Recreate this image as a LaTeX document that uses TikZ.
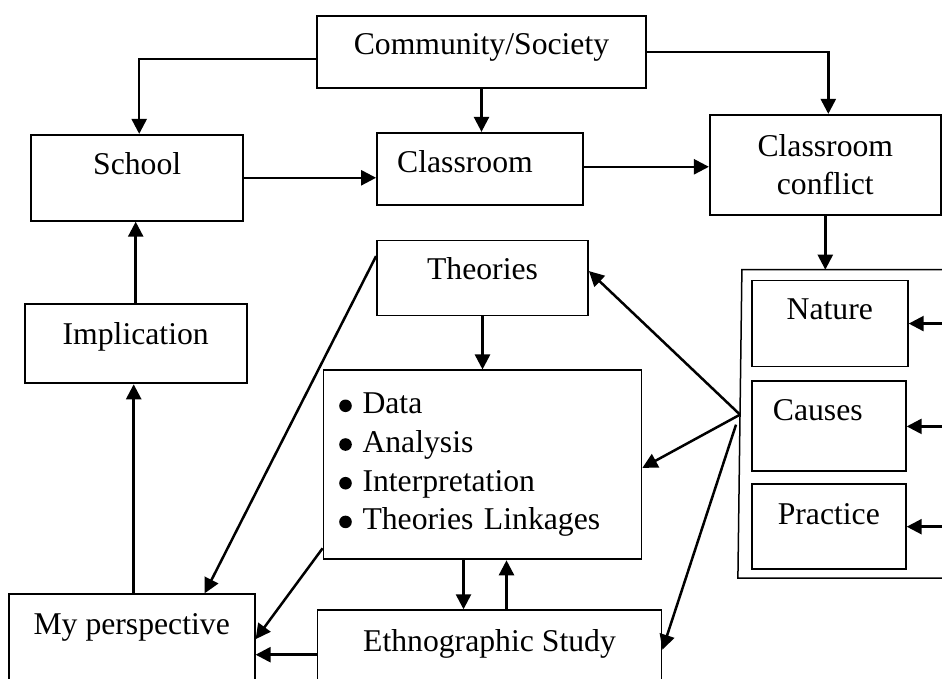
\documentclass[tikz,border=0pt]{standalone}
\usepackage{fontspec}
\setmainfont{Liberation Serif}
\usetikzlibrary{positioning,calc,arrows.meta}

\newcommand{\listdot}{\tikz[baseline={(0pt,-8pt)}]\fill (0pt,0pt) circle (6.3pt);}
\newcommand{\listentry}[1]{\listdot\kern10.7pt#1}

\begin{document}
\begin{tikzpicture}[x=1pt, y=1pt,
    every node/.style={font=\fontsize{31.7}{38.7}\selectfont},
    box/.style={rectangle, draw, line width=1.8pt, inner sep=0pt},
    arr/.style={-{Triangle[length=15pt,width=15pt]}, line width=2.5pt}]
        \useasboundingbox (0,0) rectangle (942,679);

        \node (comm) [box, minimum width=329pt, text height=39pt, text depth=33pt] at (481.5,627) {Community/Society};

        \node (classroom) [box, below=43pt of comm, xshift=-1.5pt, minimum width=206pt, text height=40pt, text depth=32pt] {Classroom\kern30pt};
        \node (school) [box, left=132pt of classroom, yshift=-9pt, minimum width=212pt, text height=40pt, text depth=46pt] {School};
        \node (conflict) [box, right=125pt of classroom, yshift=4pt, minimum width=231pt, minimum height=100pt, align=center] {Classroom\\conflict};

        \node (theories) [box, below=34pt of classroom, xshift=2.5pt, minimum width=211pt, text height=39pt, text depth=36pt] {Theories};
        \node (list) [box, below=53pt of theories, minimum height=189pt, text width=286.6pt, inner xsep=15.7pt, align=left] {\listentry{Data}\\ \listentry{Analysis}\\ \listentry{Interpretation}\\ \listentry{Theories Linkages}};
        \node (ethno) [box, below=49pt of list, xshift=7pt, minimum width=344pt, text height=41pt, text depth=56pt] {Ethnographic Study};
        \node (mypersp) [box, left=61pt of ethno, yshift=8pt, minimum width=246pt, text height=40pt, text depth=73pt] {My perspective};
        \node (implication) [box, above=209pt of mypersp, xshift=4pt, minimum width=222pt, text height=40pt, text depth=39pt] {Implication};

        \node (nature) [box, below=64pt of conflict, xshift=4.5pt, minimum width=156pt, text height=39pt, text depth=47pt] {Nature};
        \node (causes) [box, below=13pt of nature, xshift=-1pt, minimum width=154pt, text height=39pt, text depth=51pt] {Causes\kern22pt};
        \node (practice) [box, below=11pt of causes, minimum width=154pt, text height=40pt, text depth=45pt] {Practice};

        % open frame round the three boxes
        \coordinate (rim) at (942,0);
        \coordinate (panelnw) at ([xshift=-9pt,yshift=10pt]nature.north west);
        \coordinate (panelsw) at ([xshift=-13pt,yshift=-8pt]practice.south west);
        \coordinate (fan) at ($(panelnw)!0.47!(panelsw)$);
        \draw[line width=1.5pt] (panelnw -| rim) -- (panelnw) -- (panelsw) -- (panelsw -| rim);

        \draw[arr] ([yshift=-7pt]comm.west) -| ([xshift=2pt]school.north);
        \draw[arr] (comm.south) -- (comm.south |- classroom.north);
        \draw[arr] (comm.east) -| ([xshift=3pt]conflict.north);
        \draw[arr] (school.east) -- (school.east -| classroom.west);
        \draw[arr] ([yshift=2pt]classroom.east) -- ([yshift=2pt]classroom.east -| conflict.west);
        \draw[arr] (conflict.south) -- (conflict.south |- panelnw);
        \draw[arr] (implication.north) -- (implication.north |- school.south);
        \draw[arr] ([xshift=2pt]mypersp.north) -- ([xshift=2pt]mypersp.north |- implication.south);
        \draw[arr] (theories.south) -- (theories.south |- list.north);
        \draw[arr] ([yshift=22pt]theories.west) -- ([xshift=73pt]mypersp.north);
        \draw[arr] ([yshift=12pt]list.south west) -- ([yshift=11.5pt]mypersp.east);
        \draw[arr] ([yshift=4pt]ethno.west) -- ([yshift=4pt]ethno.west -| mypersp.east);
        \draw[arr] ([xshift=-19pt]list.south) -- ([xshift=-19pt]list.south |- ethno.north);
        \draw[arr] ([xshift=17pt]ethno.north) -- ([xshift=17pt]ethno.north |- list.south);
        \draw[arr] (fan) -- ([yshift=7pt]theories.east);
        \draw[arr] (fan) -- ([yshift=-3pt]list.east);
        \draw[arr] ([shift={(-4pt,-10pt)}]fan) -- ([yshift=9pt]ethno.east);
        \foreach \part in {nature, causes, practice}
            \draw[arr] (\part.east -| rim) -- (\part.east);
    \end{tikzpicture}
\end{document}
